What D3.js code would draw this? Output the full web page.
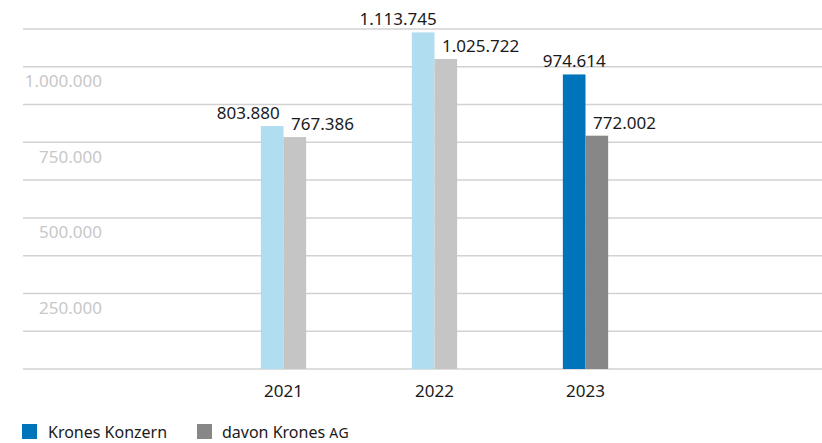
<!DOCTYPE html>
<html><head><meta charset="utf-8">
<script src="https://cdn.jsdelivr.net/npm/d3@7"></script>
<style>
html,body{margin:0;padding:0;background:#fff;}
svg{display:block;font-family:"Noto Sans",sans-serif;}
</style></head>
<body><svg id="c" width="822" height="443"></svg>
<script>
const years = ["2021", "2022", "2023"];
const konzern = [803880, 1113745, 974614];
const kronesAG = [767386, 1025722, 772002];
const gridValues = [0,125000,250000,375000,500000,625000,750000,875000,1000000,1125000];
const tickValues = [250000, 500000, 750000, 1000000];
const seriesNames = ["Krones Konzern", "davon Krones"];
const konzernColors = ["#b1ddf1", "#b1ddf1", "#0074bb"];
const agColors = ["#c5c5c5", "#c5c5c5", "#878787"];
const konzernLabelDx = [-24, -25, 0];

const loc = d3.formatLocale({decimal: ",", thousands: ".", grouping: [3], currency: ["", " €"]});
const fmt = loc.format(",d");

const svg = d3.select("#c");
const plotLeft = 23, plotRight = 822, plotTop = 29, plotBottom = 369;

const x = d3.scaleBand().domain(years).range([208, 661]).paddingInner(0.7).paddingOuter(0.35);
const y = d3.scaleLinear().domain([0, 1125000]).range([plotBottom, plotTop]);
const bw = x.bandwidth() / 2;

// gridlines
svg.append("g").selectAll("line").data(gridValues).join("line")
  .attr("x1", plotLeft).attr("x2", plotRight)
  .attr("y1", d => y(d)).attr("y2", d => y(d))
  .attr("stroke", "#d2d2d2").attr("stroke-width", 1.5);

// y tick labels
const yAxis = d3.axisLeft(y).tickValues(tickValues).tickSize(0).tickPadding(0).tickFormat(fmt);
const ga = svg.append("g").attr("transform", `translate(102,0)`).call(yAxis);
ga.select(".domain").remove();
ga.selectAll("text").attr("font-family", "Noto Sans").attr("font-size", 17)
  .attr("fill", "#c8c8c8").attr("dy", 20);

// bars
const g = svg.append("g");
g.selectAll("rect.k").data(years).join("rect").attr("class", "k")
  .attr("x", d => x(d)).attr("width", bw)
  .attr("y", (d, i) => y(konzern[i])).attr("height", (d, i) => y(0) - y(konzern[i]))
  .attr("fill", (d, i) => konzernColors[i]);
g.selectAll("rect.a").data(years).join("rect").attr("class", "a")
  .attr("x", d => x(d) + bw).attr("width", bw)
  .attr("y", (d, i) => y(kronesAG[i])).attr("height", (d, i) => y(0) - y(kronesAG[i]))
  .attr("fill", (d, i) => agColors[i]);

// value labels
g.selectAll("text.kl").data(years).join("text").attr("class", "kl")
  .attr("x", (d, i) => x(d) + bw / 2 + konzernLabelDx[i])
  .attr("y", (d, i) => y(konzern[i]) - 7)
  .attr("text-anchor", "middle").attr("font-size", 17).attr("fill", "#1a1a1a")
  .text((d, i) => fmt(konzern[i]));
g.selectAll("text.al").data(years).join("text").attr("class", "al")
  .attr("x", d => x(d) + bw + 7.5)
  .attr("y", (d, i) => y(kronesAG[i]) - 7)
  .attr("text-anchor", "start").attr("font-size", 17).attr("fill", "#1a1a1a")
  .text((d, i) => fmt(kronesAG[i]));

// x axis labels
const xAxis = d3.axisBottom(x).tickSize(0).tickPadding(0);
const gx = svg.append("g").attr("transform", `translate(0,${plotBottom})`).call(xAxis);
gx.select(".domain").remove();
gx.selectAll("text").attr("font-family", "Noto Sans").attr("font-size", 17)
  .attr("fill", "#1a1a1a").attr("dy", 28).attr("y", 0);

// legend
const lg = svg.append("g");
lg.append("rect").attr("x", 22).attr("y", 424).attr("width", 15).attr("height", 15).attr("fill", konzernColors[2]);
lg.append("text").attr("x", 48).attr("y", 438).attr("font-size", 16).attr("fill", "#1a1a1a").text(seriesNames[0]);
lg.append("rect").attr("x", 197).attr("y", 424).attr("width", 15).attr("height", 15).attr("fill", agColors[2]);
const t2 = lg.append("text").attr("x", 222).attr("y", 438).attr("font-size", 16).attr("fill", "#1a1a1a");
t2.append("tspan").text(seriesNames[1] + " ");
t2.append("tspan").attr("font-size", 14).attr("letter-spacing", 0.5).text("AG");
</script>
</body></html>
